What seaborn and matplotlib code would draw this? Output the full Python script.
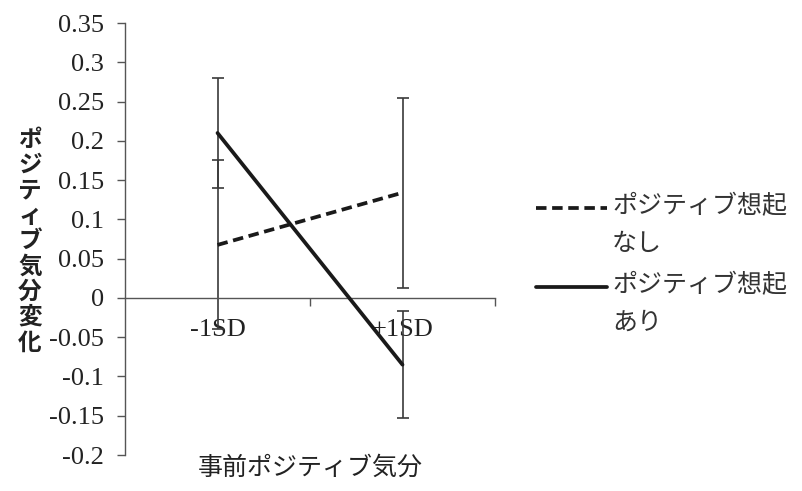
import numpy as np
import pandas as pd
import seaborn as sns
import matplotlib.pyplot as plt
from matplotlib.lines import Line2D

# data
x_labels = ["-1SD", "+1SD"]
groups = ["ポジティブ想起\nなし", "ポジティブ想起\nあり"]
means_none = [0.0675, 0.134]
means_recall = [0.21, -0.085]
err_none = [0.1075, 0.121]
err_recall = [0.07, 0.068]
y_ticks = [-0.2, -0.15, -0.1, -0.05, 0, 0.05, 0.1, 0.15, 0.2, 0.25, 0.3, 0.35]
y_tick_labels = ["-0.2", "-0.15", "-0.1", "-0.05", "0", "0.05", "0.1",
                 "0.15", "0.2", "0.25", "0.3", "0.35"]
x_title = "事前ポジティブ気分"
y_title = "ポジティブ気分変化"

sns.set_theme(style="white")
plt.rcParams['font.family'] = ['Liberation Serif', 'Noto Sans CJK JP']
jp = ['Noto Sans CJK JP', 'DejaVu Sans']

df = pd.DataFrame({
    "x": x_labels * 2,
    "pos": [0, 1, 0, 1],
    "group": [groups[0]] * 2 + [groups[1]] * 2,
    "y": means_none + means_recall,
    "err": err_none + err_recall,
})

fig = plt.figure(figsize=(8.02, 4.91), dpi=100)
ax = fig.add_axes([0.1559, 0.0733, 0.4613, 0.8798])

# error bars first, under the lines
for g in groups:
    d = df[df.group == g]
    ax.errorbar(d.pos, d.y, yerr=d.err, fmt="none", ecolor="#3a3a3a",
                elinewidth=1.2, capsize=4.5, capthick=1.2, zorder=2)

sns.lineplot(data=df, x="pos", y="y", style="group", style_order=groups,
             dashes={groups[0]: (2.8, 1.5), groups[1]: ""},
             color="#1a1a1a", linewidth=2.7, legend=False, ax=ax, zorder=3)

ax.set_xlim(-0.5, 1.5)
ax.set_ylim(-0.2, 0.35)
ax.set_yticks(y_ticks)
ax.set_yticklabels(y_tick_labels)
ax.set_xticks([0, 1])
ax.set_xticklabels(x_labels)
ax.set_xticks([0.5, 1.5], minor=True)
ax.tick_params(axis="x", which="major", length=0, pad=15, labelsize=19,
               labelcolor="#222222")
ax.tick_params(axis="x", which="minor", length=6, width=1, color="#555555",
               direction="out", bottom=True)
ax.tick_params(axis="y", length=6, width=1, color="#555555", direction="out",
               left=True, pad=9, labelsize=19, labelcolor="#222222")
ax.set_xlabel("")
ax.set_ylabel("")

for s in ["top", "right"]:
    ax.spines[s].set_visible(False)
ax.spines["bottom"].set_position(("data", 0))
for s in ["left", "bottom"]:
    ax.spines[s].set_color("#555555")
    ax.spines[s].set_linewidth(1)

ax.text(0.5, -0.03, x_title, transform=ax.transAxes, ha="center", va="center",
        fontsize=18, family=jp, color="#222222")
fig.text(30 / 802, 1 - 241 / 491, "\n".join(y_title), ha="center", va="center",
         fontsize=17, fontweight="bold", linespacing=1.07, family=jp,
         color="#222222")

# legend drawn by hand to keep the Excel-style layout
leg_y = [1 - 208 / 491, 1 - 287 / 491]
leg_dash = [(0, (2.8, 1.5)), "-"]
for g, ly, ls in zip(groups, leg_y, leg_dash):
    fig.add_artist(Line2D([536 / 802, 607 / 802], [ly, ly], color="#1a1a1a",
                          linewidth=2.7, linestyle=ls, transform=fig.transFigure))
    fig.text(612 / 802, ly + 15 / 491, g, ha="left", va="top", fontsize=18,
             linespacing=1.6, family=jp, color="#333333")

fig.savefig("out.png", dpi=100)
